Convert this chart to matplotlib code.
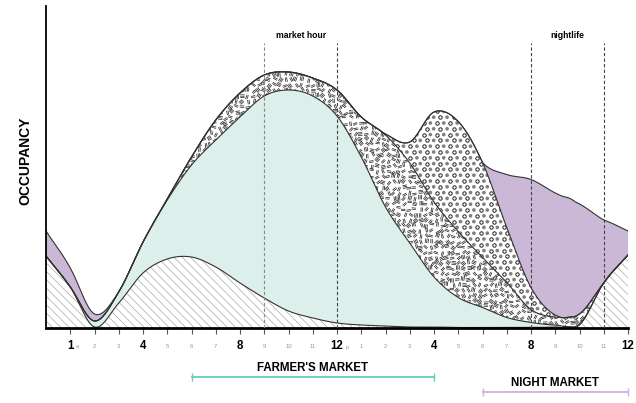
"""
Hourly occupancy streams: farmer's market day vs night market
"""
import numpy as np
import matplotlib
matplotlib.use("Agg")
import matplotlib.pyplot as plt
from matplotlib.collections import LineCollection

plt.rcParams['font.family'] = ['Liberation Sans', 'DejaVu Sans']
plt.rcParams['hatch.linewidth'] = 0.5

# hours of the day (0 = midnight) and layer heights, bottom to top
hours = list(range(25))
residents = [72, 41, 1, 25, 55, 69, 71, 61, 45, 30, 17, 10, 5, 3, 2, 1, 1, 0.5, 0.5, 0.5, 0.5, 1, 3, 45, 73]
farmers = [0, 0, 6, 11, 31, 59, 92, 127, 166, 202, 221, 222, 207, 168, 119, 84, 50, 30, 20, 10, 5, 2, 1, 0, 0]
shoppers = [0, 0, 0, 0, 0, 1, 8, 20, 24, 21, 18, 18, 26, 40, 72, 80, 75, 66, 50, 35, 13, 8, 10, 0, 0]
diners = [0, 0, 0, 0, 0, 0, 0, 0, 0, 0, 0, 0, 0, 0, 1, 21, 90, 110, 95, 55, 22, 2, 0, 0, 0]
nightlife = [25, 19, 7, 0, 0, 0, 0, 0, 0, 0, 0, 0, 0, 0, 0, 0, 0, 0, 0, 53, 108, 122, 110, 63, 24]

tick_hours = list(range(1, 25))
tick_text = ['1', '2', '3', '4', '5', '6', '7', '8', '9', '10', '11', '12',
             '1', '2', '3', '4', '5', '6', '7', '8', '9', '10', '11', '12']
major_hours = [1, 4, 8, 12, 16, 20, 24]

MINT = '#dcefeb'
PURPLE = '#cbb7d6'
LINE = '#333333'


def smooth(xk, yk, xs):
    # Catmull-Rom curve through the hourly readings, kept non-negative
    xk = np.asarray(xk, float)
    yk = np.asarray(yk, float)
    m = np.gradient(yk, xk)
    h = np.diff(xk)
    idx = np.clip(np.searchsorted(xk, xs) - 1, 0, len(xk) - 2)
    t = (xs - xk[idx]) / h[idx]
    h00 = 2 * t**3 - 3 * t**2 + 1
    h10 = t**3 - 2 * t**2 + t
    h01 = -2 * t**3 + 3 * t**2
    h11 = t**3 - t**2
    y = h00 * yk[idx] + h10 * h[idx] * m[idx] + h01 * yk[idx + 1] + h11 * h[idx] * m[idx + 1]
    return np.clip(y, 0, None)


def hash2(i, j):
    return np.modf(np.abs(np.sin(i * 12.9898 + j * 78.233) * 43758.5453))[0]


fig = plt.figure(figsize=(6.36, 4.03), dpi=100)
ax = fig.add_axes([46 / 636, 75 / 403, 582 / 636, 322 / 403])
ax.set_xlim(0, 24)
ax.set_ylim(0, 322)
px = 582 / 24  # pixels per hour

xs = np.linspace(0, 24, 800)
layers = [smooth(hours, s, xs) for s in (residents, farmers, shoppers, diners, nightlife)]
tops = np.cumsum(layers, axis=0)
bots = np.vstack([np.zeros_like(xs), tops[:-1]])

# residents: light diagonal hatch
ax.fill_between(xs, bots[0], tops[0], facecolor='white', edgecolor='#a8a8a8',
                hatch='\\' * 4, linewidth=0, zorder=1)
# farmer's market crowd
ax.fill_between(xs, bots[1], tops[1], facecolor=MINT, linewidth=0, zorder=1)

# shoppers: clusters of short parallel dashes
shop = ax.fill_between(xs, bots[2], tops[2], facecolor='white', linewidth=0, zorder=1)
gi, gj = np.meshgrid(np.arange(0, 120), np.arange(0, 50))
step = 5.4
cx = 4.3 + gi * step / px + (hash2(gi, gj + 7) - 0.5) * 2.5 / px
cy = gj * step + (hash2(gi + 3, gj) - 0.5) * 2.5
ang = hash2(gi, gj) * np.pi
count = 2 + (hash2(gi + 11, gj + 5) > 0.6)
half = 2.2
segs = []
for k, off in enumerate((-1.4, 0.0, 1.4)):
    keep = (count == 3) | (k < 2)
    ox, oy = -np.sin(ang) * off, np.cos(ang) * off
    x0 = cx + (ox - half * np.cos(ang)) / px
    y0 = cy + oy - half * np.sin(ang)
    x1 = cx + (ox + half * np.cos(ang)) / px
    y1 = cy + oy + half * np.sin(ang)
    seg = np.stack([np.stack([x0, y0], -1), np.stack([x1, y1], -1)], -2)
    segs.append(seg[keep])
segs = np.concatenate(segs)
strokes = LineCollection(segs, colors='#1a1a1a', linewidths=0.5, zorder=1.5)
ax.add_collection(strokes)
strokes.set_clip_path(shop.get_paths()[0], ax.transData)

# diners: ring / dot pattern
din = ax.fill_between(xs, bots[3], tops[3], facecolor='white', linewidth=0, zorder=1)
di, dj = np.meshgrid(np.arange(0, 80), np.arange(0, 45))
dx = 13.5 + (di * 6.7 + (dj % 2) * 3.35) / px
dy = dj * 5.8 + 2
ring = ((di + dj) % 2 == 0).ravel()
rings = ax.scatter(dx.ravel()[ring], dy.ravel()[ring], s=6, facecolor='white',
                   edgecolor='#222222', linewidths=0.7, zorder=1.5)
dots = ax.scatter(dx.ravel()[~ring], dy.ravel()[~ring], s=7, facecolor='#808080',
                  edgecolor='none', zorder=1.5)
rings.set_clip_path(din.get_paths()[0], ax.transData)
dots.set_clip_path(din.get_paths()[0], ax.transData)

# nightlife
ax.fill_between(xs, bots[4], tops[4], facecolor=PURPLE, linewidth=0, zorder=1)

for top in tops:
    ax.plot(xs, top, color=LINE, lw=0.8, zorder=2)

# event windows
ax.vlines([9], 0, 285, colors='#888888', linestyles=(0, (3, 2)), lw=0.8, zorder=3)
ax.vlines([12, 20, 23], 0, 285, colors='#444444', linestyles=(0, (3, 2)), lw=0.8, zorder=3)
ax.text(10.5, 288, 'market hour', ha='center', va='bottom', fontsize=6.2, weight='bold')
ax.text(21.5, 288, 'nightlife', ha='center', va='bottom', fontsize=6.2, weight='bold')

# axes
for side in ('top', 'right'):
    ax.spines[side].set_visible(False)
ax.spines['left'].set_linewidth(1.3)
ax.spines['bottom'].set_linewidth(2.0)
ax.set_yticks([])
ax.set_xticks(tick_hours)
ax.set_xticklabels([])
ax.tick_params(axis='x', length=4, width=0.8, color='#555555')

for h, t in zip(tick_hours, tick_text):
    if h in major_hours:
        ax.text(h, -18, t, ha='center', va='center', fontsize=8.3, weight='bold', clip_on=False)
    else:
        ax.text(h, -18, t, ha='center', va='center', fontsize=4.2, color='#999999', clip_on=False)
ax.text(1 + 5 / px, -19, 'a', ha='left', va='center', fontsize=4.2, color='#999999', clip_on=False)
ax.text(12 + 9 / px, -19, 'p', ha='left', va='center', fontsize=4.2, color='#999999', clip_on=False)

fig.text(25 / 636, 1 - 161 / 403, 'OCCUPANCY', rotation=90, ha='center', va='center',
         fontsize=10, weight='bold')

# market windows under the axis
ax.plot([6, 16], [-49, -49], color='#66cdb9', lw=1.3, marker='|', markersize=6,
        markeredgewidth=1.0, clip_on=False)
ax.text(11, -40, "FARMER'S MARKET", ha='center', va='center', fontsize=8.3, weight='bold')
ax.plot([18, 24], [-64, -64], color='#cfaee0', lw=1.3, marker='|', markersize=6,
        markeredgewidth=1.0, clip_on=False)
ax.text(21, -55, 'NIGHT MARKET', ha='center', va='center', fontsize=8.3, weight='bold')

plt.savefig('out.png', dpi=100)
